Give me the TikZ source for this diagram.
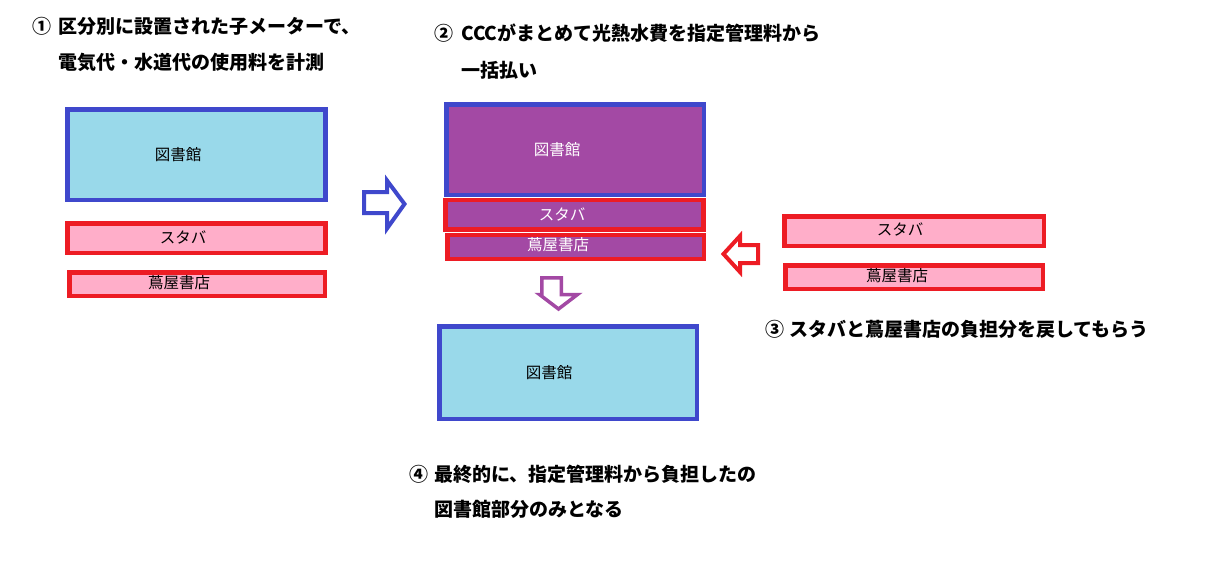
\documentclass[tikz,border=0pt]{standalone}
\usepackage{fontspec}
\setmainfont{Noto Sans CJK JP}
\usepackage{tikz}
\definecolor{mblue}{HTML}{3F48CC}
\definecolor{mred}{HTML}{ED1C24}
\definecolor{lblue}{HTML}{99D9EA}
\definecolor{mpink}{HTML}{FFAEC9}
\definecolor{mpurple}{HTML}{A349A4}
\tikzset{libbox/.style = {draw = mblue, fill = lblue, line width = 4.5pt, inner sep = 0,
    minimum width = 258pt, minimum height = 90.5pt}}
\tikzset{shopbox/.style = {draw = mred, fill = mpink, line width = 4.5pt, inner sep = 0,
    minimum width = 258pt, minimum height = 29.5pt}}
\tikzset{lbl/.style = {inner sep = 0, font = \fontsize{15.5}{18}\selectfont}}
\tikzset{ttl/.style = {inner sep = 0, anchor = west, font = \fontsize{19}{22}\selectfont\bfseries}}
\tikzset{num/.style = {inner sep = 0, font = \fontsize{19}{22}\selectfont\bfseries}}
\tikzset{hollow/.style = {line width = #1, fill = white, line join = miter}}

\begin{document}
\begin{tikzpicture}[x = 1pt, y = -1pt]
    \useasboundingbox (0, 0) rectangle (1217, 573);

    % (1) meters
    \node [num] (n1) at (41.5, 26.5) {①};
    \node [ttl] (t1a) at (58.5, 26.5) {区分別に設置された子メーターで、};
    \node [ttl] (t1b) at (58.5, 62.5) {電気代・水道代の使用料を計測};

    \node [libbox] (lib1) at (196.5, 154.5) {};
    \node [shopbox] (sb1) at (196.5, 238) {};
    \node [shopbox, minimum width = 255.5pt, minimum height = 23.5pt] (ts1) at (197, 284) {};
    \node [lbl] (lib1-t) at (178, 155) {図書館};
    \node [lbl] (sb1-t) at (183, 237) {スタバ};
    \node [lbl] (ts1-t) at (179, 283) {蔦屋書店};

    \draw [hollow = 4pt, draw = mblue] (364, 192) -- (387, 192) -- (387, 180.5) -- (404.5, 204)
      -- (387, 228.5) -- (387, 213) -- (364, 213) -- cycle;

    % (2) paid together
    \node [num] (n2) at (444, 33.5) {②};
    \node [ttl] (t2a) at (461, 33.5) {CCCがまとめて光熱水費を指定管理料から};
    \node [ttl] (t2b) at (461, 70.5) {一括払い};

    \node [libbox, fill = mpurple, minimum width = 257.5pt] (lib2) at (575, 149.5) {};
    \node [shopbox, fill = mpurple] (sb2) at (574.5, 214.5) {};
    \node [shopbox, fill = mpurple, minimum width = 256.5pt, minimum height = 24pt] (ts2) at (575.5, 246.75) {};
    \node [lbl, white] (lib2-t) at (557, 150) {図書館};
    \node [lbl, white] (sb2-t) at (562, 214) {スタバ};
    \node [lbl, white] (ts2-t) at (558, 245) {蔦屋書店};

    \draw [hollow = 3.5pt, draw = mpurple] (541.75, 277.75) -- (561.25, 277.75) -- (561.25, 294.5)
      -- (577.5, 294.5) -- (558.5, 309) -- (539.5, 294.5) -- (541.75, 294.5) -- cycle;

    % (3) refund
    \node [shopbox, minimum width = 259.5pt] (sb3) at (914, 231) {};
    \node [shopbox, minimum width = 257.5pt, minimum height = 23.5pt] (ts3) at (914, 277) {};
    \node [lbl] (sb3-t) at (900, 229) {スタバ};
    \node [lbl] (ts3-t) at (897, 276) {蔦屋書店};

    \draw [hollow = 4pt, draw = mred] (723.5, 254) -- (740, 236) -- (740, 245) -- (758, 245)
      -- (758, 263) -- (740, 263) -- (740, 272) -- cycle;

    \node [num] (n3) at (775, 329) {③};
    \node [ttl] (t3) at (789, 329) {スタバと蔦屋書店の負担分を戻してもらう};

    % (4) result
    \node [libbox, minimum width = 257.5pt, minimum height = 92.5pt] (lib3) at (568, 372.5) {};
    \node [lbl] (lib3-t) at (549, 373) {図書館};

    \node [num] (n4) at (419, 474) {④};
    \node [ttl] (t4a) at (434, 474) {最終的に、指定管理料から負担したの};
    \node [ttl] (t4b) at (434, 509) {図書館部分のみとなる};
  \end{tikzpicture}
\end{document}
